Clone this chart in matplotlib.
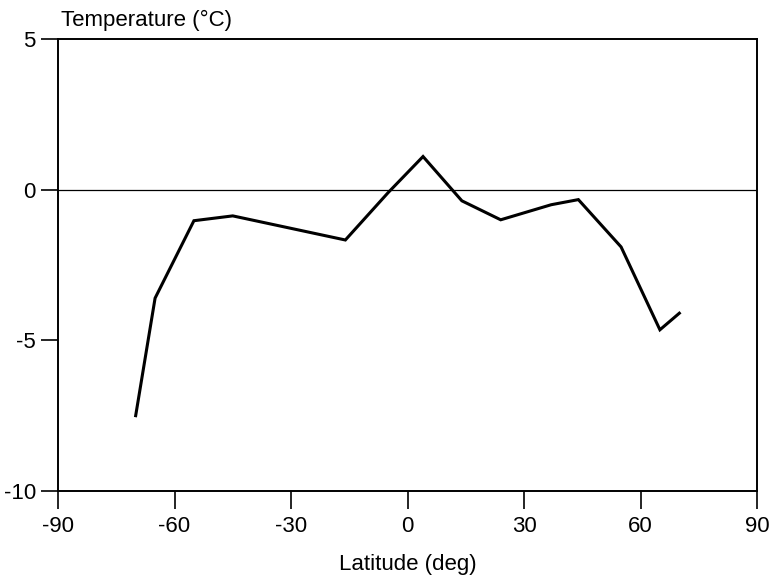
import matplotlib
matplotlib.use("Agg")
import matplotlib.pyplot as plt

plt.rcParams['font.family'] = ['Liberation Sans', 'DejaVu Sans']
plt.rcParams['axes.unicode_minus'] = False

# Data
latitude = [-70, -65, -55, -45, -16, -5, 4, 14, 24, 37, 44, 55, 65, 70]
temperature = [-7.5, -3.6, -1.03, -0.87, -1.67, -0.1, 1.1, -0.37, -1.0, -0.5, -0.33, -1.9, -4.65, -4.1]

x_ticks = [-90, -60, -30, 0, 30, 60, 90]
y_ticks = [-10, -5, 0, 5]

fig = plt.figure(figsize=(7.7, 5.79), dpi=100)
ax = fig.add_axes([58 / 770, 1 - 491 / 579, 699 / 770, 452 / 579])

ax.axhline(0, color='black', linewidth=0.9)
ax.plot(latitude, temperature, color='black', linewidth=2.2, solid_joinstyle='miter')

ax.set_xlim(-90, 90)
ax.set_ylim(-10, 5)
ax.set_xticks(x_ticks)
ax.set_yticks(y_ticks)
ax.tick_params(axis='x', direction='out', length=13, width=1.2, labelsize=16, pad=5)
ax.tick_params(axis='y', direction='out', length=12, width=1.2, labelsize=16, pad=4)
for s in ax.spines.values():
    s.set_linewidth(1.4)

ax.set_xlabel('Latitude (deg)', fontsize=16, labelpad=12)
fig.text(61 / 770, 1 - 20 / 579, 'Temperature (°C)', fontsize=16, ha='left', va='center')

fig.savefig('out.png', dpi=100)
